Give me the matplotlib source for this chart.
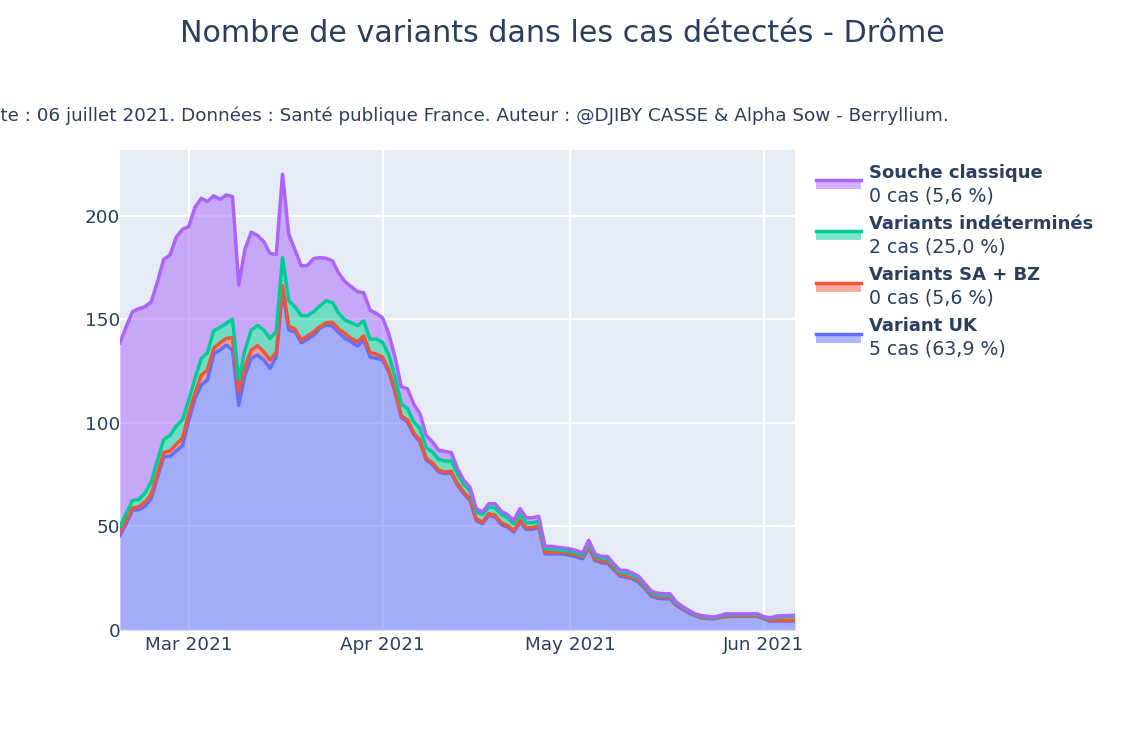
import matplotlib
matplotlib.use("Agg")
import matplotlib.pyplot as plt
import matplotlib.dates as mdates
from matplotlib.lines import Line2D
from matplotlib.patches import Rectangle
import pandas as pd

# cumulative tops of the stack, one value per day
top_uk = [45.7,51.3,57.8,58.1,59.7,63.4,73.9,83.6,83.9,86.5,
          89.0,101.3,111.8,118.3,120.7,133.3,135.2,137.6,135.2,108.6,
          123.1,131.2,132.8,130.4,126.3,131.9,164.2,144.9,144.0,138.7,
          140.3,142.4,145.7,147.3,146.8,143.6,140.8,139.2,137.1,140.0,
          131.9,131.2,130.4,124.7,115.0,102.6,100.5,94.4,90.8,82.0,
          79.9,76.3,75.5,75.8,69.9,65.8,62.6,52.9,51.3,55.4,
          54.6,51.0,49.7,47.3,52.1,48.6,48.6,49.7,36.8,36.7,
          36.8,36.7,36.0,35.5,34.4,39.6,33.6,32.5,32.3,29.2,
          26.0,25.5,24.7,23.1,19.9,16.4,15.4,15.1,15.1,12.0,
          10.0,8.3,6.9,5.8,5.6,5.4,6.0,6.5,6.6,6.6,
          6.6,6.6,6.6,5.5,4.2,4.4,4.4,4.4,4.4]
top_sa_bz = [47.3,52.9,59.0,59.4,61.8,65.5,75.5,85.7,86.5,89.7,
             92.6,104.6,114.2,123.1,125.5,136.0,138.7,140.8,141.2,115.0,
             127.1,135.2,137.3,134.4,130.4,134.0,166.3,146.8,145.3,140.0,
             142.0,144.0,146.5,148.4,148.6,145.3,143.2,140.8,139.2,142.0,
             134.0,133.2,131.9,125.5,115.8,103.4,101.5,95.2,91.6,82.8,
             80.7,77.1,76.3,76.6,70.7,66.6,63.4,53.7,52.1,56.2,
             55.4,51.8,50.5,48.1,52.9,49.4,49.4,50.5,37.6,37.5,
             37.6,37.5,36.8,36.3,35.2,40.4,34.4,33.3,33.1,30.0,
             26.8,26.3,25.5,23.9,20.7,17.2,16.2,15.9,15.9,12.5,
             10.5,8.7,7.2,6.0,5.8,5.6,6.2,6.7,6.8,6.8,
             6.8,6.8,6.8,5.8,4.5,4.7,4.7,4.7,4.7]
top_indet = [50.0,56.2,62.6,63.0,66.2,71.5,82.0,92.0,94.0,98.4,
             101.5,111.0,121.5,131.0,133.9,144.5,146.1,148.0,150.2,120.7,
             135.2,144.9,147.0,144.9,140.8,144.0,179.8,159.0,156.1,151.8,
             151.8,153.7,156.5,159.0,158.1,152.9,149.7,148.4,147.0,149.2,
             140.5,140.5,138.9,132.8,122.3,109.1,107.0,100.5,97.3,88.0,
             86.0,82.3,81.6,81.6,75.5,70.3,67.4,57.0,55.8,59.4,
             59.0,55.8,54.2,51.3,55.8,51.8,51.8,52.6,39.2,39.1,
             38.8,38.2,38.0,37.3,36.0,42.0,35.8,34.4,34.4,31.0,
             27.8,27.6,26.5,25.0,21.5,18.0,17.0,16.7,16.8,13.0,
             11.0,9.1,7.5,6.6,6.2,5.9,6.6,7.4,7.4,7.4,
             7.4,7.4,7.4,6.1,5.4,6.2,6.4,6.6,6.7]
top_classic = [138.7,146.5,153.7,155.2,156.1,158.5,168.2,179.0,181.1,189.7,
               193.5,194.8,204.2,208.5,206.9,209.7,208.0,210.1,209.3,166.6,
               183.9,192.1,190.5,187.6,181.9,181.3,220.1,191.1,183.5,175.8,
               176.1,179.4,179.8,179.5,178.2,172.3,168.2,165.8,163.4,162.9,
               154.5,152.9,150.8,143.2,131.9,117.5,116.5,109.0,104.5,94.0,
               90.8,86.8,86.3,85.7,77.9,72.3,69.0,58.6,57.0,61.0,
               61.0,57.4,55.7,52.9,58.6,54.2,54.2,54.9,40.4,40.4,
               40.0,39.6,39.2,38.4,37.1,43.3,36.8,35.5,35.5,32.0,
               28.8,28.8,27.5,25.9,22.3,18.8,17.8,17.5,17.5,13.5,
               11.4,9.5,7.8,7.0,6.6,6.2,7.0,7.8,7.8,7.8,
               7.8,7.8,7.8,6.5,5.8,6.7,6.9,7.0,7.1]

start_date = "2021-02-18"
x_ticks = ["2021-03-01", "2021-04-01", "2021-05-01", "2021-06-01"]
y_ticks = [0, 50, 100, 150, 200]

# legend order, top to bottom
names = ["Souche classique", "Variants indéterminés", "Variants SA + BZ", "Variant UK"]
notes = ["0 cas (5,6 %)", "2 cas (25,0 %)", "0 cas (5,6 %)", "5 cas (63,9 %)"]
colors = ["#ab63fa", "#00cc96", "#ef553b", "#636efa"]

title = "Nombre de variants dans les cas détectés - Drôme"
subtitle = "Date : 06 juillet 2021. Données : Santé publique France. Auteur : @DJIBY CASSE & Alpha Sow - Berryllium."

W, H = 1125, 750
TEXT = "#2a3f5f"
LW = 2.5

plt.rcParams['font.family'] = ['DejaVu Sans']
fig = plt.figure(figsize=(W / 100, H / 100), dpi=100)
ax = fig.add_axes([120 / W, 1 - 630 / H, 675 / W, 480 / H])
ax.set_facecolor("#e5ecf6")

dates = pd.date_range(start_date, periods=len(top_uk), freq="D")
stack = [top_classic, top_indet, top_sa_bz, top_uk]

# draw bottom of the stack first, like plotly does
lower = [0] * len(dates)
for tops, color in zip(stack[::-1], colors[::-1]):
    ax.fill_between(dates, lower, tops, color=color, alpha=0.5, lw=0, zorder=2)
    ax.plot(dates, tops, color=color, lw=LW, zorder=3, solid_joinstyle="round")
    lower = tops

ax.set_xlim(dates[0], dates[-1])
ax.set_ylim(0, 231.8)
ax.set_yticks(y_ticks)
ax.set_xticks(pd.to_datetime(x_ticks))
ax.xaxis.set_major_formatter(mdates.DateFormatter("%b %Y"))
ax.grid(True, color="white", lw=1.6, zorder=1)
ax.set_axisbelow(True)
ax.tick_params(length=0, labelsize=13.2, labelcolor=TEXT)
ax.tick_params(axis="x", pad=4)
ax.tick_params(axis="y", pad=0)
for spine in ax.spines.values():
    spine.set_visible(False)

fig.text(562.5 / W, 1 - 33 / H, title, ha="center", va="center", fontsize=21.7, color=TEXT)
fig.text(949 / W, 1 - 116 / H, subtitle, ha="right", va="center", fontsize=13.25, color=TEXT)

# legend built by hand, plotly mixes bold and normal lines in one entry
for i, (name, note, color) in enumerate(zip(names, notes, colors)):
    y0 = 180 + 51.3 * i
    fig.add_artist(Rectangle((816 / W, 1 - (y0 + 9) / H), 45 / W, 9 / H,
                             transform=fig.transFigure, color=color, alpha=0.5, lw=0))
    fig.add_artist(Line2D([816 / W, 861 / W], [1 - y0 / H, 1 - y0 / H],
                          transform=fig.transFigure, color=color, lw=LW))
    fig.text(869 / W, 1 - (y0 - 7.5) / H, name, ha="left", va="center",
             fontsize=13, fontweight="bold", color=TEXT)
    fig.text(869 / W, 1 - (y0 + 15.5) / H, note, ha="left", va="center",
             fontsize=13.6, color=TEXT)

fig.savefig("out.png", dpi=100, facecolor="white")
